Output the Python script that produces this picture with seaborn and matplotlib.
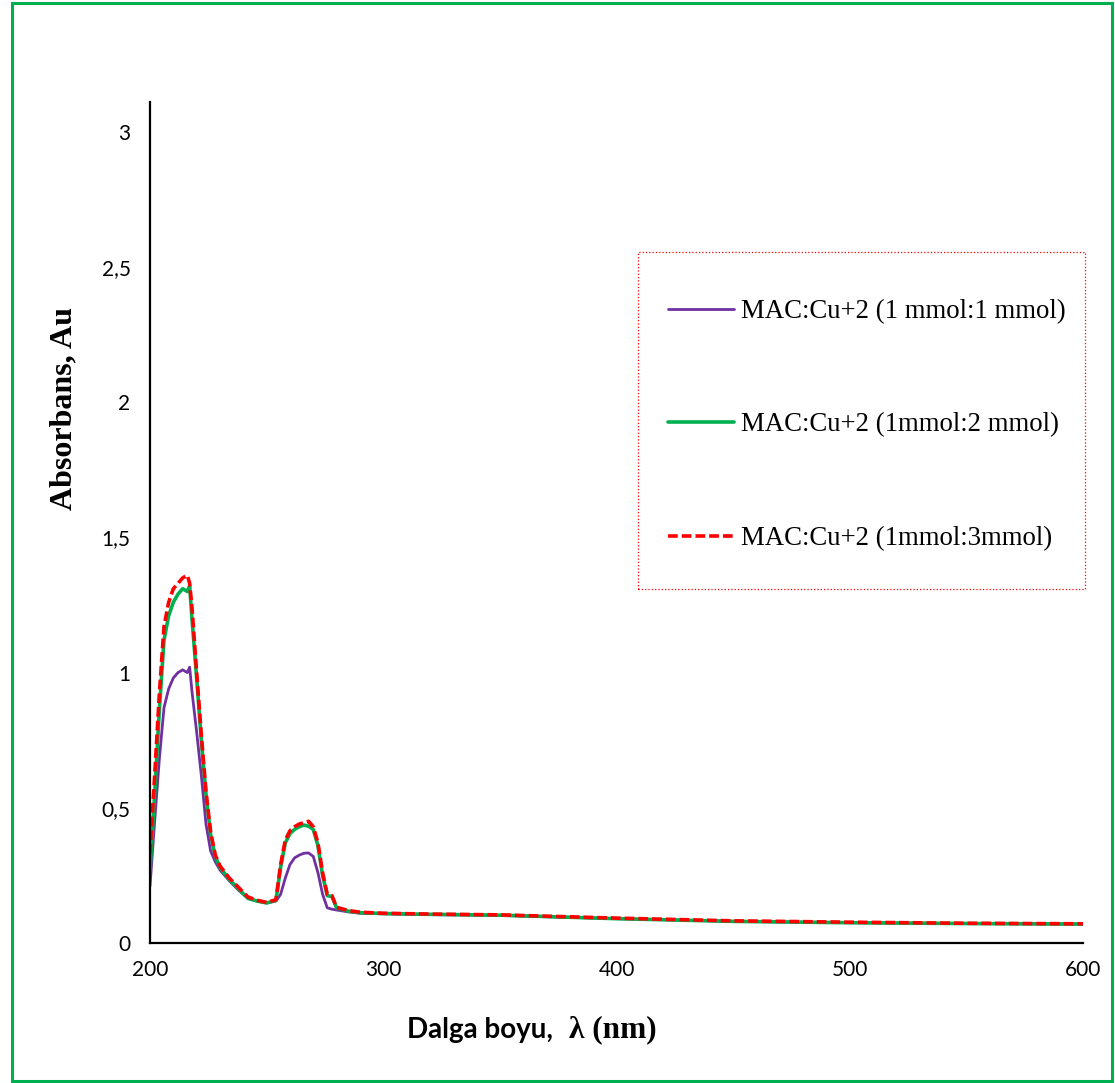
import numpy as np
import pandas as pd
import matplotlib
matplotlib.use("Agg")
import matplotlib.pyplot as plt
from matplotlib.patches import Rectangle
import seaborn as sns

# Wavelength grid (nm)
wavelength = [200, 202, 204, 206, 208, 210, 212, 214, 216, 217, 218, 220, 222, 224,
              226, 228, 230, 234, 238, 242, 246, 250, 254, 256, 258, 260, 262, 264,
              266, 268, 270, 272, 274, 276, 278, 280, 285, 290, 300, 320, 350, 400,
              450, 500, 550, 600]

# Absorbance of each complex ratio
abs_1_1 = [0.21, 0.45, 0.68, 0.87, 0.94, 0.98, 1.00, 1.01, 1.00, 1.02, 0.93, 0.78,
           0.62, 0.44, 0.34, 0.30, 0.27, 0.23, 0.195, 0.165, 0.155, 0.148, 0.155,
           0.18, 0.24, 0.29, 0.315, 0.325, 0.332, 0.333, 0.32, 0.26, 0.18, 0.13,
           0.125, 0.122, 0.115, 0.11, 0.108, 0.105, 0.102, 0.09, 0.08, 0.075,
           0.072, 0.07]
abs_1_2 = [0.27, 0.55, 0.86, 1.12, 1.21, 1.26, 1.29, 1.31, 1.30, 1.32, 1.20, 0.98,
           0.75, 0.55, 0.40, 0.32, 0.28, 0.235, 0.20, 0.165, 0.155, 0.148, 0.158,
           0.28, 0.37, 0.405, 0.42, 0.43, 0.436, 0.432, 0.42, 0.36, 0.25, 0.175,
           0.172, 0.13, 0.118, 0.112, 0.109, 0.106, 0.103, 0.09, 0.08, 0.075,
           0.072, 0.07]
abs_1_3 = [0.33, 0.62, 0.92, 1.17, 1.26, 1.31, 1.33, 1.35, 1.36, 1.33, 1.24, 1.00,
           0.77, 0.56, 0.41, 0.325, 0.285, 0.24, 0.205, 0.17, 0.158, 0.15, 0.16,
           0.29, 0.38, 0.415, 0.43, 0.44, 0.445, 0.45, 0.43, 0.37, 0.26, 0.18,
           0.175, 0.132, 0.12, 0.114, 0.11, 0.107, 0.104, 0.092, 0.082, 0.077,
           0.073, 0.071]

labels = ["MAC:Cu+2 (1 mmol:1 mmol)", "MAC:Cu+2 (1mmol:2 mmol)", "MAC:Cu+2 (1mmol:3mmol)"]

df = pd.concat([
    pd.DataFrame({"wl": wavelength, "A": abs_1_1, "sample": labels[0]}),
    pd.DataFrame({"wl": wavelength, "A": abs_1_2, "sample": labels[1]}),
    pd.DataFrame({"wl": wavelength, "A": abs_1_3, "sample": labels[2]}),
])

sns.set_theme(style="white")
plt.rcParams["font.family"] = ["Lato", "DejaVu Sans"]
plt.rcParams["text.color"] = "black"
plt.rcParams["axes.labelcolor"] = "black"

W, H = 1115, 1083
fig = plt.figure(figsize=(W / 100, H / 100), dpi=100)
ax = fig.add_axes([150 / W, 1 - 943 / H, (1083 - 150) / W, (943 - 102) / H])

palette = {labels[0]: "#7030A0", labels[1]: "#00B050", labels[2]: "#FF0000"}
widths = {labels[0]: 2.0, labels[1]: 2.6, labels[2]: 2.6}
for lab in labels:
    sub = df[df["sample"] == lab]
    sns.lineplot(data=sub, x="wl", y="A", ax=ax, color=palette[lab],
                 linewidth=widths[lab], label=lab,
                 linestyle=(0, (2.7, 1.1)) if lab == labels[2] else "-")

ax.set_xlim(200, 600)
ax.set_ylim(0, 3.11)
ax.set_xticks([200, 300, 400, 500, 600])
ax.set_yticks([0, 0.5, 1, 1.5, 2, 2.5, 3])
ax.set_yticklabels(["0", "0,5", "1", "1,5", "2", "2,5", "3"])
ax.tick_params(axis="both", labelsize=15, length=0, pad=14, colors="black")
ax.tick_params(axis="x", pad=12)
for s in ["top", "right"]:
    ax.spines[s].set_visible(False)
for s in ["left", "bottom"]:
    ax.spines[s].set_color("black")
    ax.spines[s].set_linewidth(1.6)
ax.set_xlabel("")
ax.set_ylabel("")

fig.text(64 / W, 1 - 409 / H, "Absorbans, Au", rotation=90, ha="center", va="center",
         fontsize=23, fontweight="bold", family=["Liberation Serif"])

# Axis title mixes a sans and a serif part
fig.text(553 / W, 1 - 1030 / H, "Dalga boyu,", ha="right", va="center",
         fontsize=20, fontweight="bold", family=["Lato"])
fig.text(569 / W, 1 - 1030 / H, "λ (nm)", ha="left", va="center",
         fontsize=22.5, fontweight="bold", family=["Liberation Serif"])

leg = ax.legend(loc="upper left",
                bbox_to_anchor=(668 / W, 1 - 299 / H), bbox_transform=fig.transFigure,
                prop={"family": "Liberation Serif", "size": 19.3}, frameon=False,
                labelspacing=3.3, borderpad=0, handlelength=2.45,
                handletextpad=0.27, borderaxespad=0)
for t in leg.get_texts():
    t.set_color("black")

# Dotted legend box
fig.patches.append(Rectangle((638 / W, 1 - 589 / H), (1085 - 638) / W, (589 - 252) / H,
                             transform=fig.transFigure, fill=False,
                             edgecolor="#FF0000", linestyle=":", linewidth=0.9))

fig.patches.append(Rectangle((12 / W, 2 / H), (1112 - 12) / W, (1080 - 2) / H,
                             transform=fig.transFigure, fill=False,
                             edgecolor="#00B050", linewidth=2.2))

fig.savefig("out.png", dpi=100, facecolor="white")
